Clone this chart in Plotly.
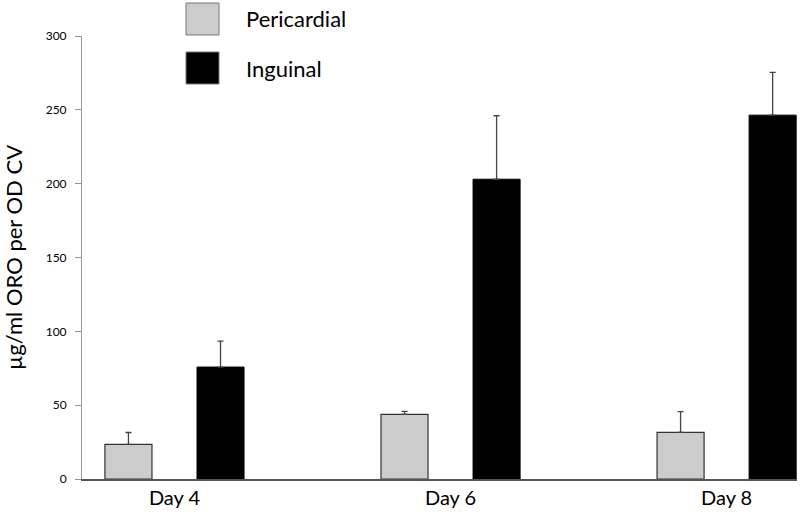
import plotly.graph_objects as go

# data
days = ["Day 4", "Day 6", "Day 8"]
pericardial = [23.5, 43.8, 31.6]
pericardial_err = [8, 2, 14]
inguinal = [75.8, 203, 246.4]
inguinal_err = [17.6, 43, 29]
y_ticks = [0, 50, 100, 150, 200, 250, 300]

FONT = "Lato, 'Open Sans', sans-serif"
x_pos = list(range(len(days)))

L, T, B, R = 82, 36, 40, 3
W, H = 800, 519
plot_w = W - L - R
plot_h = H - T - B

fig = go.Figure()

fig.add_trace(go.Bar(
    x=x_pos, y=pericardial, name="Pericardial",
    marker=dict(color="#cccccc", line=dict(color="#333333", width=1.2)),
    error_y=dict(type="data", array=pericardial_err, symmetric=False,
                 arrayminus=[0] * len(days), color="#444444",
                 thickness=1.3, width=3),
))
fig.add_trace(go.Bar(
    x=x_pos, y=inguinal, name="Inguinal",
    marker=dict(color="#000000", line=dict(color="#000000", width=1)),
    error_y=dict(type="data", array=inguinal_err, symmetric=False,
                 arrayminus=[0] * len(days), color="#444444",
                 thickness=1.3, width=3),
))

# legend drawn by hand (large swatches like the original)
legend_items = [("Pericardial", "#cccccc"), ("Inguinal", "#000000")]
for i, (label, colour) in enumerate(legend_items):
    top = 3 + i * 49
    fig.add_shape(
        type="rect", xref="paper", yref="paper",
        x0=(186 - L) / plot_w, x1=(219 - L) / plot_w,
        y0=(T + plot_h - top - 32) / plot_h, y1=(T + plot_h - top) / plot_h,
        fillcolor=colour, line=dict(color="#777777", width=1),
    )
    fig.add_annotation(
        text=label, xref="paper", yref="paper",
        x=(244 - L) / plot_w, y=(T + plot_h - top - 16) / plot_h,
        xanchor="left", yanchor="middle", showarrow=False,
        font=dict(size=22, color="#000000", family=FONT),
    )

fig.update_layout(
    width=W, height=H,
    margin=dict(l=L, r=R, t=T, b=B),
    paper_bgcolor="white", plot_bgcolor="white",
    barmode="group", bargap=0.333, bargroupgap=0.489,
    showlegend=False,
    font=dict(family=FONT, color="#000000"),
)
fig.update_xaxes(
    range=[-0.335, 2.255], tickvals=x_pos, ticktext=days,
    showline=True, linecolor="#555555", linewidth=1.5,
    ticks="", showgrid=False, zeroline=False, automargin=False,
    tickfont=dict(size=20, family=FONT),
)
fig.update_yaxes(
    range=[0, 300], tickvals=y_ticks,
    showline=True, linecolor="#999999", linewidth=1,
    ticks="outside", ticklen=6, tickcolor="#999999",
    ticklabelstandoff=6,
    showgrid=False, zeroline=False, automargin=False,
    tickfont=dict(size=12, family=FONT),
    title=dict(text="µg/ml ORO per OD CV", font=dict(size=22, family=FONT),
               standoff=18),
)

# drop the page's default body margin so the figure fills the window
fig.write_html("out.html", config={"displayModeBar": False},
               post_script="document.body.style.margin = '0';")
